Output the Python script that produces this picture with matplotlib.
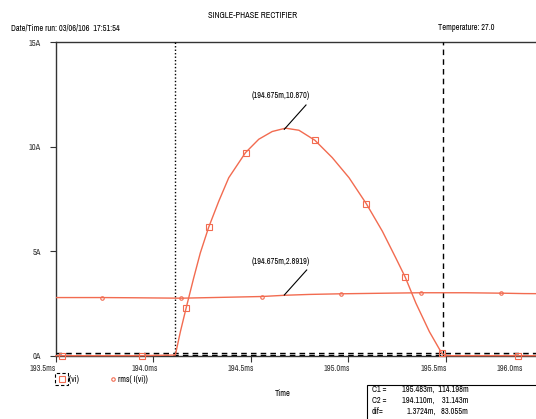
import matplotlib
matplotlib.use("Agg")
import matplotlib.pyplot as plt
import matplotlib.transforms as mtransforms
from matplotlib.patches import Rectangle

plt.rcParams["font.family"] = ["Archivo Narrow", "Roboto Condensed", "Liberation Sans", "DejaVu Sans"]
FS = 6

# current I(vi), time in ms, amps
t_cur = [193.5, 193.531, 193.939, 194.112, 194.138, 194.168, 194.206, 194.240, 194.283,
         194.335, 194.386, 194.472, 194.540, 194.609, 194.677, 194.746, 194.828, 194.917,
         195.003, 195.092, 195.174, 195.243, 195.291, 195.346, 195.415, 195.479, 195.500,
         195.871, 196.1]
i_cur = [0.0, 0.0, 0.0, 0.03, 1.15, 2.30, 3.71, 4.91, 6.14,
         7.39, 8.51, 9.71, 10.35, 10.72, 10.88, 10.78, 10.30, 9.47,
         8.51, 7.26, 5.95, 4.67, 3.76, 2.51, 1.15, 0.11, 0.0,
         0.0, 0.0]
cur_marks = [1, 2, 5, 8, 11, 16, 19, 22, 25, 27]

# rms(I(vi))
t_rms = [193.5, 193.734, 193.9, 194.141, 194.3, 194.555, 194.675, 194.8, 194.960,
         195.2, 195.372, 195.6, 195.782, 195.9, 196.1]
i_rms = [2.78, 2.78, 2.77, 2.75, 2.78, 2.83, 2.89, 2.93, 2.96,
         2.99, 3.01, 3.01, 2.99, 2.97, 2.96]
rms_marks = [1, 3, 5, 8, 10, 12]

x_ticks = [193.5, 194.0, 194.5, 195.0, 195.5, 196.0]
x_labels = ["193.5ms", "194.0ms", "194.5ms", "195.0ms", "195.5ms", "196.0ms"]
y_ticks = [0, 5, 10, 15]
y_labels = ["0A", "5A", "10A", "15A"]

# cursors
c1 = (195.483, 0.114198)
c2 = (194.110, 0.031143)

red = "#f26b50"
H = 419

fig = plt.figure(figsize=(5.36, 4.19), dpi=100)
ax = fig.add_axes([56 / 536, 63.3 / 419, 504 / 536, 313.7 / 419])
ax.set_xlim(193.5, 196.085)
ax.set_ylim(0, 15)

ax.plot(t_cur, i_cur, color=red, lw=1, marker="s", ms=4, mfc="none", mec=red,
        mew=0.8, markevery=cur_marks, zorder=4, clip_on=False)
ax.plot(t_rms, i_rms, color=red, lw=1, marker="o", ms=2.5, mfc="none", mec=red,
        mew=0.8, markevery=rms_marks, zorder=4)

# cursor lines
ax.axvline(c2[0], color="black", lw=1, ls=(0, (1, 1.5)), zorder=3)
ax.axvline(c1[0], color="black", lw=1, ls=(0, (4, 3)), zorder=3)
ax.axhline(c1[1], color="black", lw=1, ls=(0, (4, 3)), zorder=3)
ax.axhline(c2[1], color="black", lw=1, ls=(0, (4, 3)), zorder=3)

ax.spines["right"].set_visible(False)
for sp in ["left", "top", "bottom"]:
    ax.spines[sp].set_color("#333333")
    ax.spines[sp].set_linewidth(1)

ax.set_xticks(x_ticks)
ax.set_xticklabels(x_labels, fontsize=FS)
ax.set_yticks(y_ticks)
ax.set_yticklabels(y_labels, fontsize=FS)
ax.tick_params(direction="out", length=4, width=0.8, colors="#333333")
ax.tick_params(axis="x", pad=2)
ax.tick_params(axis="y", pad=7)

# shift x tick labels left like the original
x_offsets = [-13, -9, -10, -12, -12, -34]
for lab, dx in zip(ax.get_xticklabels(), x_offsets):
    lab.set_transform(lab.get_transform() + mtransforms.ScaledTranslation(dx / 100, 0, fig.dpi_scale_trans))

# point labels with leader lines
ax.annotate("(194.675m,10.870)", xy=(194.675, 10.87), xycoords="data",
            xytext=(281, H - 95), textcoords="figure pixels", fontsize=FS, ha="center", va="center")
ax.annotate("(194.675m,2.8919)", xy=(194.675, 2.8919), xycoords="data",
            xytext=(281, H - 261), textcoords="figure pixels", fontsize=FS, ha="center", va="center")
fig.add_artist(plt.Line2D([306 / 536, 284.3 / 536], [(H - 105) / H, (H - 129.3) / H], color="black", lw=0.8))
fig.add_artist(plt.Line2D([306.7 / 536, 284.3 / 536], [(H - 270) / H, (H - 295) / H], color="black", lw=0.8))


def ftext(x, y, s, **kw):
    fig.text(x / 536, (H - y) / H, s, fontsize=FS, va="center", **kw)


ftext(253, 16, "SINGLE-PHASE RECTIFIER", ha="center")
ftext(11, 28, "Date/Time run: 03/06/106  17:51:54", ha="left")
ftext(438, 28, "Temperature: 27.0", ha="left")
ftext(283, 393, "Time", ha="center")

# legend
fig.add_artist(Rectangle((55 / 536, (H - 385) / H), 13 / 536, 12 / H, fill=False,
                         ec="black", lw=0.8, ls=(0, (3, 2)), transform=fig.transFigure))
fig.add_artist(plt.Line2D([62 / 536], [(H - 379) / H], marker="s", ms=4, mfc="none",
                          mec=red, mew=0.8, transform=fig.transFigure))
ftext(67, 379, "I(vi)", ha="left")
fig.add_artist(plt.Line2D([113 / 536], [(H - 379) / H], marker="o", ms=2.5, mfc="none",
                          mec=red, mew=0.8, transform=fig.transFigure))
ftext(118, 379, "rms( I(vi))", ha="left")

# cursor box
fig.add_artist(Rectangle((367 / 536, -0.05), 0.4, (H - 385) / H + 0.05, fill=False,
                         ec="black", lw=0.8, transform=fig.transFigure))
ftext(372, 389, "C1 =", ha="left")
ftext(402, 389, "195.483m,  114.198m", ha="left")
ftext(372, 400, "C2 =", ha="left")
ftext(402, 400, "194.110m,    31.143m", ha="left")
ftext(372, 411, "dif=", ha="left")
ftext(407, 411, "1.3724m,   83.055m", ha="left")

fig.savefig("out.png", dpi=100)
